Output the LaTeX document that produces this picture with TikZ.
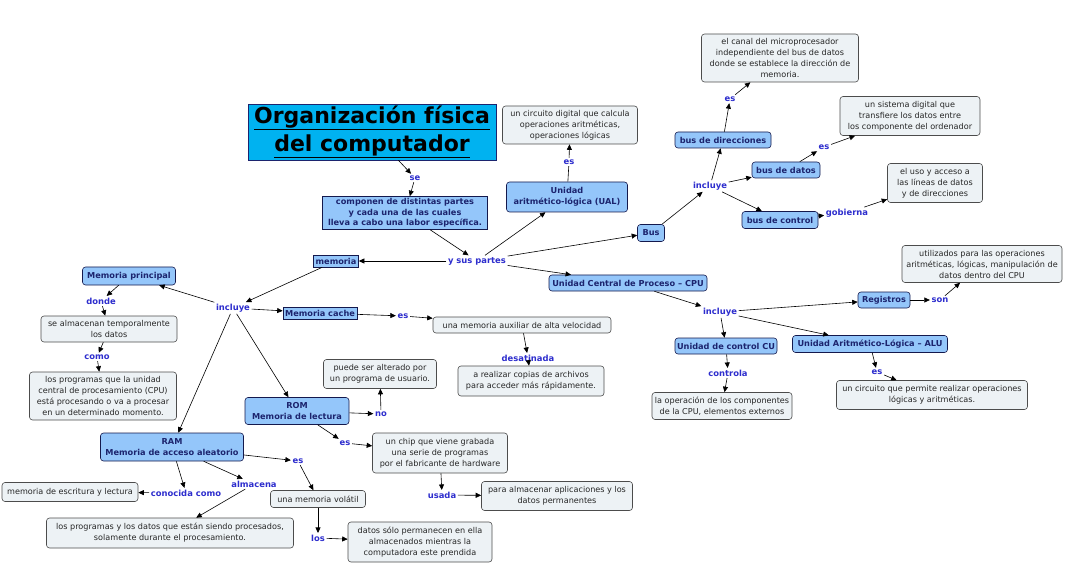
\documentclass[tikz,border=0pt]{standalone}
\usepackage{fontspec}
\setmainfont{DejaVu Sans}
\usetikzlibrary{arrows.meta}
\definecolor{titlefill}{RGB}{0,178,240}
\definecolor{conceptfill}{RGB}{148,198,250}
\definecolor{conceptink}{RGB}{28,36,110}
\definecolor{textfill}{RGB}{237,242,245}
\definecolor{linkblue}{RGB}{45,45,205}

\begin{document}
\begin{tikzpicture}[x=1pt,y=-1pt,>={Triangle[length=5.5pt,width=5pt]},line width=0.6pt,
  ttl/.style={draw=conceptink,fill=titlefill,font=\fontsize{22}{28}\selectfont\bfseries,align=center,inner sep=0pt},
  con/.style={draw=conceptink!70!black,fill=conceptfill,rounded corners=3pt,font=\fontsize{8.2}{10.5}\selectfont\bfseries,text=conceptink,align=center,inner sep=1pt},
  sq/.style={con,sharp corners},
  txt/.style={draw=black!70,fill=textfill,rounded corners=3pt,font=\fontsize{8.1}{11}\selectfont,text=black!85,align=center,inner sep=1pt},
  lnk/.style={font=\fontsize{8.4}{9}\selectfont\bfseries,text=linkblue,inner sep=1.5pt}]
  \useasboundingbox (0,0) rectangle (1074,580);
  % title and first level
  \node[ttl,minimum width=248pt,minimum height=56pt] (title) at (372,132) {\underline{Organización física}\\\underline{del computador}};
  \node[lnk] (se) at (415,178) {se};
  \node[sq,minimum width=165pt,minimum height=33pt] (comp) at (405,213) {componen de distintas partes\\y cada una de las cuales\\lleva a cabo una labor específica.};
  \node[lnk] (partes) at (477,261) {y sus partes};
  \node[sq,minimum width=45pt,minimum height=12pt] (memoria) at (336,261) {memoria};
  % UAL
  \node[con,minimum width=121pt,minimum height=30pt] (ual) at (567,197) {Unidad\\aritmético-lógica (UAL)};
  \node[lnk] (esUal) at (569,162) {es};
  \node[txt,minimum width=135pt,minimum height=38pt] (circUal) at (570,125) {un circuito digital que calcula\\operaciones aritméticas,\\operaciones lógicas};
  % Bus
  \node[con,minimum width=27pt,minimum height=17pt] (bus) at (651,233) {Bus};
  \node[lnk] (inclBus) at (710,186) {incluye};
  \node[con,minimum width=96pt,minimum height=16pt] (busDir) at (723,140) {bus de direcciones};
  \node[lnk] (esDir) at (730,99) {es};
  \node[txt,minimum width=157pt,minimum height=48pt] (canal) at (780,58) {el canal del microprocesador\\independiente del bus de datos\\donde se establece la dirección de\\memoria.};
  \node[con,minimum width=68pt,minimum height=16pt] (busDat) at (786,170) {bus de datos};
  \node[lnk] (esDat) at (824,147) {es};
  \node[txt,minimum width=140pt,minimum height=39pt] (sistema) at (910,116) {un sistema digital que\\transfiere los datos entre\\los componente del ordenador};
  \node[con,minimum width=76pt,minimum height=17pt] (busCtl) at (780,220) {bus de control};
  \node[lnk] (gob) at (847,213) {gobierna};
  \node[txt,minimum width=95pt,minimum height=39pt] (uso) at (935,183) {el uso y acceso a\\las líneas de datos\\y de direcciones};
  % CPU
  \node[con,minimum width=158pt,minimum height=16pt] (cpu) at (628,283) {Unidad Central de Proceso – CPU};
  \node[lnk] (inclCpu) at (720,312) {incluye};
  \node[con,minimum width=52pt,minimum height=16pt] (regs) at (884,300) {Registros};
  \node[lnk] (son) at (940,300) {son};
  \node[txt,minimum width=160pt,minimum height=37pt] (utiliz) at (982,264) {utilizados para las operaciones\\aritméticas, lógicas, manipulación de\\datos dentro del CPU};
  \node[con,minimum width=102pt,minimum height=16pt] (cu) at (726,346) {Unidad de control CU};
  \node[lnk] (controla) at (728,373) {controla};
  \node[txt,minimum width=140pt,minimum height=27pt] (operacion) at (722,406) {la operación de los componentes\\de la CPU, elementos externos};
  \node[con,minimum width=155pt,minimum height=17pt] (alu) at (870,344) {Unidad Aritmético-Lógica – ALU};
  \node[lnk] (esAlu) at (877,372) {es};
  \node[txt,minimum width=191pt,minimum height=29pt] (circAlu) at (932,395) {un circuito que permite realizar operaciones\\lógicas y aritméticas.};
  % memoria
  \node[lnk] (inclMem) at (233,308) {incluye};
  \node[con,minimum width=93pt,minimum height=18pt] (mprin) at (129,276) {Memoria principal};
  \node[lnk] (donde) at (101,301) {donde};
  \node[txt,minimum width=136pt,minimum height=26pt] (almac) at (109,329) {se almacenan temporalmente\\los datos};
  \node[lnk] (como) at (97,357) {como};
  \node[txt,minimum width=147pt,minimum height=48pt] (progs) at (103,396) {los programas que la unidad\\central de procesamiento (CPU)\\está procesando o va a procesar\\en un determinado momento.};
  \node[sq,minimum width=74pt,minimum height=12pt] (cache) at (320,313) {Memoria cache};
  \node[lnk] (esCache) at (403,316) {es};
  \node[txt,minimum width=178pt,minimum height=16pt] (auxiliar) at (522,325) {una memoria auxiliar de alta velocidad};
  \node[lnk] (desat) at (528,358) {desatinada};
  \node[txt,minimum width=146pt,minimum height=30pt] (copias) at (531,381) {a realizar copias de archivos\\para acceder más rápidamente.};
  % ROM
  \node[con,minimum width=104pt,minimum height=27pt] (rom) at (297,411) {ROM\\Memoria de lectura};
  \node[lnk] (no) at (381,414) {no};
  \node[txt,minimum width=113pt,minimum height=29pt] (alterado) at (380,374) {puede ser alterado por\\un programa de usuario.};
  \node[lnk] (esRom) at (345,443) {es};
  \node[txt,minimum width=135pt,minimum height=40pt] (chip) at (440,453) {un chip que viene grabada\\una serie de programas\\por el fabricante de hardware};
  \node[lnk] (usada) at (442,495) {usada};
  \node[txt,minimum width=151pt,minimum height=29pt] (aplic) at (557,496) {para almacenar aplicaciones y los\\datos permanentes};
  % RAM
  \node[con,minimum width=143pt,minimum height=28pt] (ram) at (172,447) {RAM\\Memoria de acceso aleatorio};
  \node[lnk] (conocida) at (186,493) {conocida como};
  \node[txt,minimum width=136pt,minimum height=19pt] (escritura) at (70,492) {memoria de escritura y lectura};
  \node[lnk] (almacena) at (254,484) {almacena};
  \node[txt,minimum width=247pt,minimum height=30pt] (procesados) at (170,533) {los programas y los datos que están siendo procesados,\\solamente durante el procesamiento.};
  \node[lnk] (esRam) at (298,461) {es};
  \node[txt,minimum width=95pt,minimum height=17pt] (volatil) at (318,499) {una memoria volátil};
  \node[lnk] (los) at (318,538) {los};
  \node[txt,minimum width=144pt,minimum height=40pt] (sololos) at (420,542) {datos sólo permanecen en ella\\almacenados mientras la\\computadora este prendida};
  % connectors
  \draw[->] (title) -- (se);
  \draw[->] (se) -- (comp);
  \draw[->] (comp) -- (partes);
  \draw[->] (partes) -- (memoria);
  \draw[->] (partes) -- (ual);
  \draw[->] (partes) -- (bus);
  \draw[->] (partes) -- (cpu);
  \draw (ual) -- (esUal);
  \draw[->] (esUal) -- (circUal);
  \draw[->] (bus) -- (inclBus);
  \draw[->] (inclBus) -- (busDir);
  \draw[->] (inclBus) -- (busDat);
  \draw[->] (inclBus) -- (busCtl);
  \draw[->] (busDir) -- (esDir);
  \draw[->] (esDir) -- (canal);
  \draw[->] (busDat) -- (esDat);
  \draw[->] (esDat) -- (sistema);
  \draw[->] (busCtl) -- (gob);
  \draw[->] (gob) -- (uso);
  \draw[->] (cpu) -- (inclCpu);
  \draw[->] (inclCpu) -- (regs);
  \draw[->] (inclCpu) -- (cu);
  \draw[->] (inclCpu) -- (alu);
  \draw[->] (regs) -- (son);
  \draw[->] (son) -- (utiliz);
  \draw[->] (cu) -- (controla);
  \draw[->] (controla) -- (operacion);
  \draw[->] (alu) -- (esAlu);
  \draw[->] (esAlu) -- (circAlu);
  \draw[->] (memoria) -- (inclMem);
  \draw[->] (inclMem) -- (mprin);
  \draw[->] (inclMem) -- (cache);
  \draw[->] (inclMem) -- (rom);
  \draw[->] (inclMem) -- (ram);
  \draw[->] (mprin) -- (donde);
  \draw[->] (donde) -- (almac);
  \draw[->] (almac) -- (como);
  \draw[->] (como) -- (progs);
  \draw[->] (cache) -- (esCache);
  \draw[->] (esCache) -- (auxiliar);
  \draw[->] (auxiliar) -- (desat);
  \draw[->] (desat) -- (copias);
  \draw[->] (rom) -- (no);
  \draw[->] (no) -- (alterado);
  \draw[->] (rom) -- (esRom);
  \draw[->] (esRom) -- (chip);
  \draw[->] (chip) -- (usada);
  \draw[->] (usada) -- (aplic);
  \draw[->] (ram) -- (conocida);
  \draw[->] (conocida) -- (escritura);
  \draw[->] (ram) -- (almacena);
  \draw[->] (almacena) -- (procesados);
  \draw[->] (ram) -- (esRam);
  \draw[->] (esRam) -- (volatil);
  \draw[->] (volatil) -- (los);
  \draw[->] (los) -- (sololos);
\end{tikzpicture}
\end{document}
